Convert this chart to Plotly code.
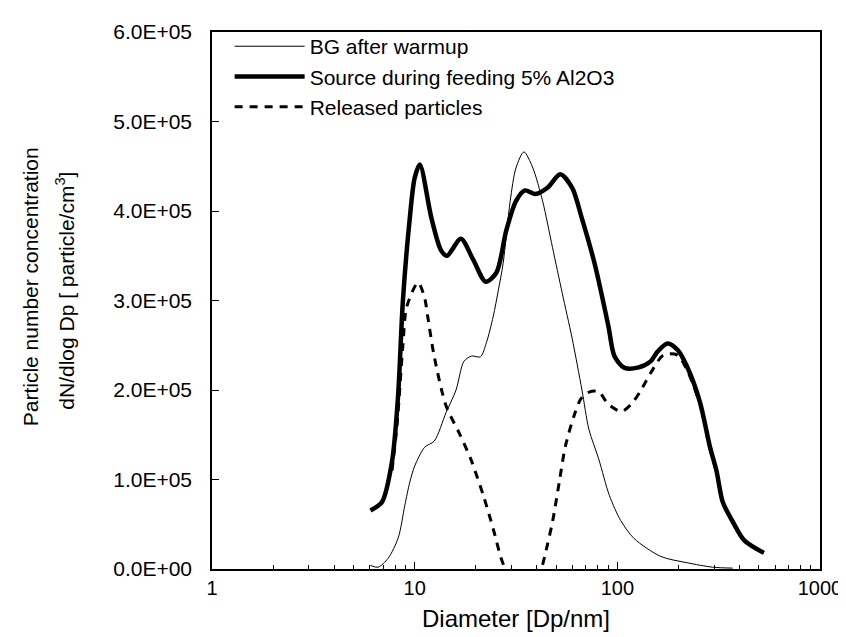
import plotly.graph_objects as go

# ---- data ----
bg_x = [6.05, 6.6, 7.4, 8.3, 8.94, 9.46, 10.0, 11.2, 12.5, 14.3, 16.0, 17.5, 19.1, 21.1, 22.6,
        24.4, 25.9, 27.3, 29.6, 31.6, 34.6, 38.3, 42.8, 47.9, 53.5, 59.8, 66.9, 72.4, 80.9,
        91.4, 104, 121, 164, 221, 296, 371]
bg_y = [0.04e5, 0.02e5, 0.12e5, 0.35e5, 0.71e5, 0.97e5, 1.15e5, 1.36e5, 1.43e5, 1.75e5, 2.0e5,
        2.32e5, 2.38e5, 2.37e5, 2.53e5, 2.82e5, 3.12e5, 3.41e5, 4.11e5, 4.48e5, 4.66e5, 4.48e5,
        4.11e5, 3.59e5, 3.08e5, 2.58e5, 2.0e5, 1.56e5, 1.23e5, 0.82e5, 0.54e5, 0.34e5, 0.14e5,
        0.07e5, 0.02e5, 0.01e5]

src_x = [6.05, 6.9, 7.73, 8.28, 8.75, 9.46, 10.0, 10.6, 12.1, 13.5, 14.45, 16.9, 19.5, 22.4,
         25.3, 28.3, 31.6, 35, 39.5, 45.2, 52.3, 59.8, 66.8, 77.3, 90.4, 96.7, 108, 126, 146,
         158, 177, 198, 221, 256, 286, 309, 331, 371, 423, 528]
src_y = [0.654e5, 0.75e5, 1.2e5, 1.93e5, 3.0e5, 3.92e5, 4.37e5, 4.52e5, 3.92e5, 3.56e5, 3.5e5,
         3.69e5, 3.45e5, 3.21e5, 3.31e5, 3.78e5, 4.11e5, 4.23e5, 4.19e5, 4.26e5, 4.41e5, 4.26e5,
         3.92e5, 3.41e5, 2.71e5, 2.38e5, 2.25e5, 2.25e5, 2.32e5, 2.43e5, 2.52e5, 2.45e5, 2.26e5,
         1.86e5, 1.37e5, 1.09e5, 0.75e5, 0.53e5, 0.32e5, 0.18e5]

rel_x = [7.73, 8.18, 8.75, 9.14, 10.4, 11.2, 11.6, 12.5, 14.3, 16.5, 18.9, 21.9,
         24.4, 26.7, 28.5, 31.6, 35, 39, 42, 43.8, 47.9, 51.7, 55.4, 61.1, 66.1, 73.1, 80.9,
         90.4, 104.5, 117, 131, 146, 169, 198, 221, 256, 286, 309, 331, 371, 423, 528]
rel_y = [1.1e5, 1.6e5, 2.5e5, 2.93e5, 3.2e5, 3.03e5, 2.82e5, 2.37e5, 1.82e5,
         1.53e5, 1.23e5, 0.81e5, 0.45e5, 0.12e5, -0.05e5, -0.37e5, -0.43e5, -0.25e5, -0.02e5,
         0.14e5, 0.53e5, 0.97e5, 1.37e5, 1.71e5, 1.9e5, 1.98e5, 1.98e5, 1.84e5, 1.76e5, 1.84e5,
         2.0e5, 2.19e5, 2.39e5, 2.39e5, 2.22e5, 1.84e5, 1.35e5, 1.08e5, 0.74e5, 0.52e5, 0.32e5,
         0.18e5]

series_names = ["BG after warmup", "Source during feeding 5% Al2O3", "Released particles"]

x_tick_vals = [1, 10, 100, 1000]
x_tick_text = ["1", "10", "100", "1000"]
x_minor_vals = [m * d for d in (1, 10, 100) for m in range(2, 10)]
y_tick_vals = [0, 1e5, 2e5, 3e5, 4e5, 5e5, 6e5]
y_tick_text = ["0.0E+00", "1.0E+05", "2.0E+05", "3.0E+05", "4.0E+05", "5.0E+05", "6.0E+05"]

FONT = "Liberation Sans, Arial, sans-serif"

fig = go.Figure()
fig.add_trace(go.Scatter(x=bg_x, y=bg_y, mode="lines", name=series_names[0],
                         line=dict(color="black", width=1, shape="spline", smoothing=0.8)))
fig.add_trace(go.Scatter(x=src_x, y=src_y, mode="lines", name=series_names[1],
                         line=dict(color="black", width=4.5, shape="spline", smoothing=0.8)))
fig.add_trace(go.Scatter(x=rel_x, y=rel_y, mode="lines", name=series_names[2],
                         line=dict(color="black", width=3, dash="8px,7px", shape="spline", smoothing=0.8)))

fig.update_layout(
    width=846, height=637,
    margin=dict(l=204, r=24, t=20, b=76),
    paper_bgcolor="white", plot_bgcolor="white",
    font=dict(family=FONT, color="black", size=19),
    showlegend=True,
    legend=dict(x=0.029, y=1.011, xanchor="left", yanchor="top",
                bgcolor="rgba(0,0,0,0)", font=dict(size=21, family=FONT),
                itemwidth=70, traceorder="normal"),
    xaxis=dict(type="log", range=[0, 3], tickvals=x_tick_vals, ticktext=x_tick_text,
               ticks="inside", ticklen=7, tickwidth=1, tickcolor="black",
               minor=dict(tickvals=x_minor_vals, ticks="inside", ticklen=4, tickcolor="black", tickwidth=1),
               showline=True, linecolor="black", linewidth=2, mirror=True,
               showgrid=False, zeroline=False,
               tickfont=dict(size=20),
               title=dict(text="Diameter [Dp/nm]", font=dict(size=24), standoff=12)),
    yaxis=dict(range=[0, 6e5], tickvals=y_tick_vals, ticktext=y_tick_text,
               ticks="inside", ticklen=7, tickwidth=1, tickcolor="black",
               ticklabelstandoff=14,
               showline=True, linecolor="black", linewidth=1.5, mirror=True,
               showgrid=False, zeroline=False, tickfont=dict(size=21)),
)

fig.add_annotation(text="Particle number concentration", xref="paper", yref="paper",
                   x=-0.299, y=0.525, xanchor="center", yanchor="middle",
                   textangle=-90, showarrow=False,
                   font=dict(size=21, family=FONT))
fig.add_annotation(text="dN/dlog Dp [ particle/cm<sup>3</sup>]", xref="paper", yref="paper",
                   x=-0.242, y=0.518, xanchor="center", yanchor="middle",
                   textangle=-90, showarrow=False,
                   font=dict(size=21, family=FONT))

fig.write_html("out.html")
